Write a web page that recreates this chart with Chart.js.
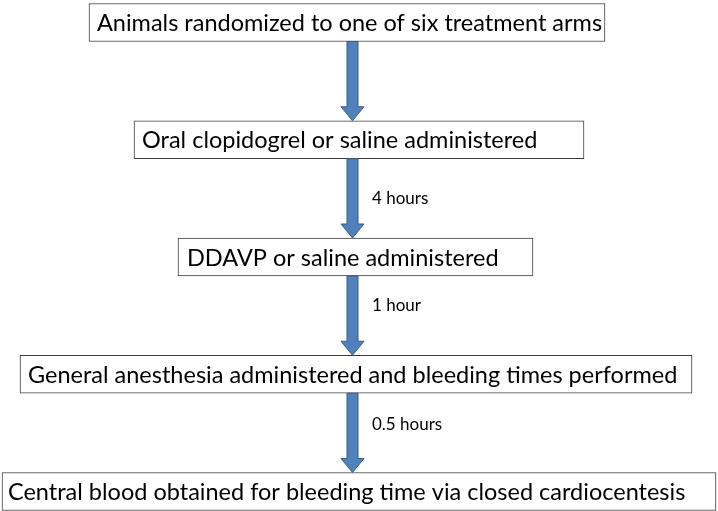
<!DOCTYPE html>
<html>
<head>
<meta charset="utf-8">
<script src="https://cdn.jsdelivr.net/npm/chart.js@4.4.1/dist/chart.umd.min.js"></script>
<style>
  html, body { margin: 0; padding: 0; background: #ffffff; }
  #wrap { width: 718px; height: 511px; }
</style>
</head>
<body>
<div id="wrap"><canvas id="c" width="718" height="511"></canvas></div>
<script>
// ---- data ----
const steps = [
  'Animals randomized to one of six treatment arms',
  'Oral clopidogrel or saline administered',
  'DDAVP or saline administered',
  'General anesthesia administered and bleeding times performed',
  'Central blood obtained for bleeding time via closed cardiocentesis'
];
// horizontal extent of each step box on a 0..718 axis
const boxSpans = [[89, 605], [134, 584], [178, 533], [20, 692], [2, 716]];
// time elapsed between consecutive steps
const intervalLabels = ['', '4 hours', '1 hour', '0.5 hours'];

// ---- layout / style ----
const arrowAxisX = 352.5;
const textInsets = [8, 8, 9, 8, 6];
const labelOffsets = [0, 40, 30, 31];
const boxFont = '23.5px Lato';
const labelFont = '17px Lato';
const arrowFill = '#4f81bd';
const arrowStroke = '#385d8a';

const flowPlugin = {
  id: 'flow',
  afterDatasetsDraw(chart) {
    const ctx = chart.ctx;
    const meta = chart.getDatasetMeta(0);
    const xs = chart.scales.x;
    const bars = meta.data.map(el => el.getProps(['x', 'y', 'base', 'height'], true));
    ctx.save();
    // box texts
    ctx.fillStyle = '#000';
    ctx.font = boxFont;
    ctx.textBaseline = 'middle';
    ctx.textAlign = 'left';
    bars.forEach((b, i) => {
      const left = Math.min(b.x, b.base);
      ctx.fillText(steps[i], left + textInsets[i], b.y + 1);
    });
    // arrows
    const cx = xs.getPixelForValue(arrowAxisX);
    const shaftHalf = 5.5, headHalf = 11.5, headLen = 14;
    for (let i = 0; i < bars.length - 1; i++) {
      const top = bars[i].y + bars[i].height / 2;
      const bot = bars[i + 1].y - bars[i + 1].height / 2;
      ctx.beginPath();
      ctx.moveTo(cx - shaftHalf, top);
      ctx.lineTo(cx + shaftHalf, top);
      ctx.lineTo(cx + shaftHalf, bot - headLen);
      ctx.lineTo(cx + headHalf, bot - headLen);
      ctx.lineTo(cx, bot);
      ctx.lineTo(cx - headHalf, bot - headLen);
      ctx.lineTo(cx - shaftHalf, bot - headLen);
      ctx.closePath();
      ctx.fillStyle = arrowFill;
      ctx.fill();
      ctx.lineWidth = 1;
      ctx.strokeStyle = arrowStroke;
      ctx.stroke();
      if (intervalLabels[i]) {
        ctx.fillStyle = '#000';
        ctx.font = labelFont;
        ctx.textBaseline = 'middle';
        ctx.fillText(intervalLabels[i], cx + 19.5, top + labelOffsets[i]);
      }
    }
    ctx.restore();
  }
};

new Chart(document.getElementById('c'), {
  type: 'bar',
  data: {
    labels: steps,
    datasets: [{
      data: boxSpans,
      backgroundColor: '#ffffff',
      borderColor: '#3c3c3c',
      borderWidth: 1,
      borderSkipped: false,
      barThickness: 38,
      clip: false
    }]
  },
  options: {
    indexAxis: 'y',
    responsive: false,
    animation: false,
    layout: { padding: { top: 22.5, bottom: 19.5, left: 0, right: 0 } },
    scales: {
      x: { type: 'linear', min: 0, max: 718, display: false },
      y: { type: 'category', offset: false, display: false }
    },
    plugins: { legend: { display: false }, tooltip: { enabled: false } }
  },
  plugins: [flowPlugin]
});
</script>
</body>
</html>
